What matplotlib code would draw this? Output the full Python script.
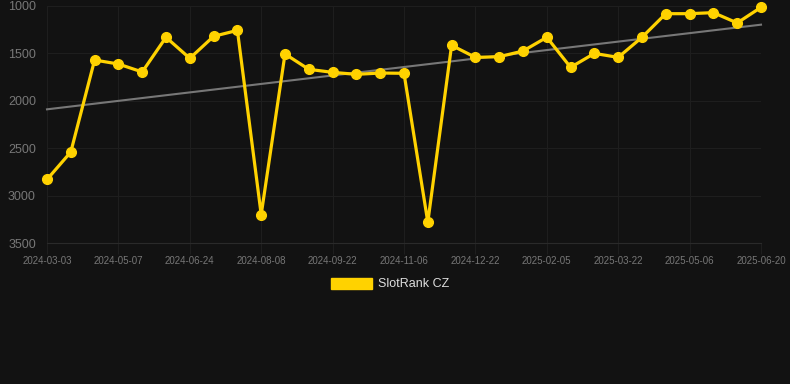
import numpy as np
import matplotlib
matplotlib.use("Agg")
from matplotlib import pyplot as plt
from matplotlib.patches import Patch

plt.rcParams["font.family"] = ["Liberation Sans", "DejaVu Sans"]

# rank values, one per point (lower rank is better, axis inverted)
ranks = [2830, 2540, 1570, 1612, 1696, 1330, 1552, 1320, 1257, 3200,
         1506, 1668, 1700, 1721, 1707, 1710, 3280, 1415, 1542, 1535,
         1475, 1330, 1647, 1500, 1542, 1330, 1081, 1081, 1070, 1179, 1014]
tick_labels = ["2024-03-03", "2024-05-07", "2024-06-24", "2024-08-08",
               "2024-09-22", "2024-11-06", "2024-12-22", "2025-02-05",
               "2025-03-22", "2025-05-06", "2025-06-20"]
trend = [2090, 1197]
series_name = "SlotRank CZ"

bg = "#121212"
gold = "#FFD200"

fig = plt.figure(figsize=(7.9, 3.84), dpi=100, facecolor=bg)
ax = fig.add_axes([47 / 790, 1 - 243 / 384, (761 - 47) / 790, (243 - 6) / 384])
ax.set_facecolor(bg)

x = np.arange(len(ranks))
ax.plot([x[0], x[-1]], trend, color="#777777", lw=1.5, zorder=2)
ax.plot(x, ranks, color=gold, lw=2.3, marker="o", ms=7,
        solid_joinstyle="miter", zorder=3)

ax.set_xlim(0, len(ranks) - 1)
ax.set_ylim(3500, 1000)
ax.set_yticks([1000, 1500, 2000, 2500, 3000, 3500])
ax.set_xticks(x[::3])
ax.set_xticklabels(tick_labels)

ax.grid(True, color="#1e1e1e", lw=0.8)
for s in ["top", "right", "left"]:
    ax.spines[s].set_visible(False)
ax.spines["bottom"].set_color("#2a2a2a")
ax.tick_params(axis="x", colors="#1e1e1e", labelcolor="#777777", labelsize=7, length=8, pad=1)
ax.tick_params(axis="y", length=0, labelcolor="#777777", labelsize=9, pad=8)
for line in ax.lines:
    line.set_clip_on(False)

fig.legend(handles=[Patch(color=gold, label=series_name)], loc="center",
           bbox_to_anchor=(390 / 790, 1 - 284 / 384), frameon=False,
           fontsize=9, labelcolor="#dddddd", handlelength=3.3,
           handleheight=1.0, handletextpad=0.5)

plt.savefig("out.png", facecolor=bg)
